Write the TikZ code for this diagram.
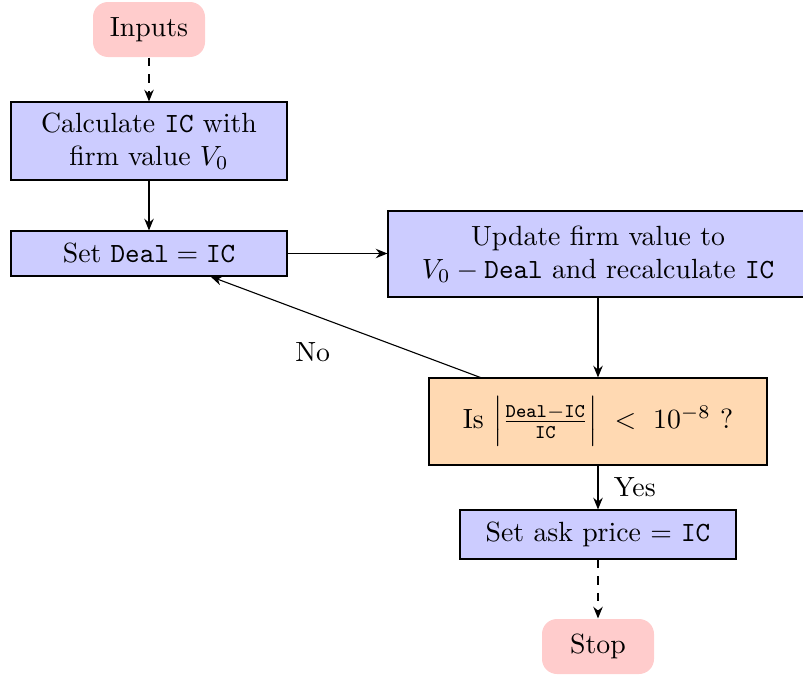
\documentclass[tikz,border=0pt]{standalone}
\usepackage{amsmath}
\usetikzlibrary{arrows.meta}
\begin{document}
\begin{tikzpicture}[x=0.36pt,y=-0.36pt,
  every node/.style={font=\normalsize},
  terminal/.style={rectangle, rounded corners=5.4pt, fill=red!20, draw=none,
    minimum width=112*0.36pt, minimum height=55*0.36pt},
  process/.style={rectangle, draw=black, fill=blue!20, align=center},
  decision/.style={rectangle, draw=black, fill=orange!30, align=center},
  flow/.style={-{Stealth[length=4.2pt,width=3.4pt]}},
  dashflow/.style={flow, dashed}]
  \useasboundingbox (0,0) rectangle (803,677);

  \node[terminal] (in) at (149,29.5) {Inputs};
  \node[process, minimum width=276*0.36pt, minimum height=78*0.36pt]
    (calc) at (149,141) {Calculate \texttt{IC} with\\ firm value $V_0$};
  \node[process, minimum width=276*0.36pt, minimum height=45*0.36pt]
    (set) at (149,253.5) {Set $\texttt{Deal} = \texttt{IC}$};
  \node[process, minimum width=420*0.36pt, minimum height=86*0.36pt]
    (upd) at (598,254) {Update firm value to\\ $V_0 - \texttt{Deal}$ and recalculate \texttt{IC}};
  \node[decision, minimum width=338*0.36pt, minimum height=87*0.36pt]
    (dec) at (598,421.5) {Is $\Big|\frac{\texttt{Deal}-\texttt{IC}}{\texttt{IC}}\Big| \ < \ 10^{-8}$ ?};
  \node[process, minimum width=276*0.36pt, minimum height=49*0.36pt]
    (ask) at (598,534.5) {Set ask price $=$ \texttt{IC}};
  \node[terminal] (stop) at (598,646.5) {Stop};

  \draw[dashflow] (in) -- (calc);
  \draw[flow] (calc) -- (set);
  \draw[flow] (set) -- (upd.west |- set);
  \draw[flow] (upd.south -| dec.north) -- (dec.north);
  \draw[flow] (dec) -- node[pos=0.5, below left, xshift=-2pt, yshift=-2.2pt] {No} (set);
  \draw[flow] (dec) -- node[right, xshift=2.2pt] {Yes} (ask);
  \draw[dashflow] (ask) -- (stop);
\end{tikzpicture}
\end{document}
